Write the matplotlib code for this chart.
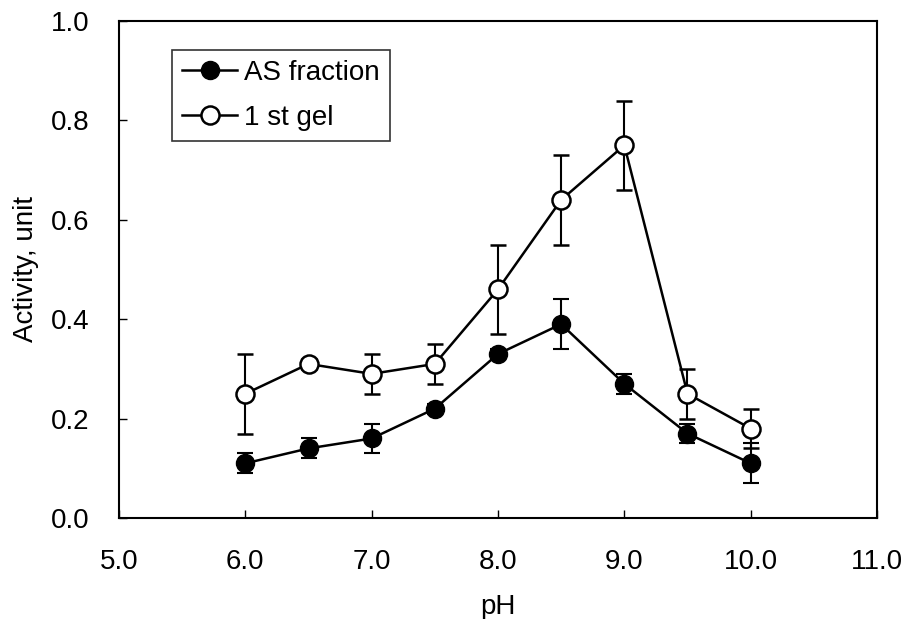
import matplotlib
matplotlib.use("Agg")
import matplotlib.pyplot as plt
import numpy as np

plt.rcParams['font.family'] = ['Liberation Sans', 'DejaVu Sans']

ph = [6.0, 6.5, 7.0, 7.5, 8.0, 8.5, 9.0, 9.5, 10.0]
as_fraction = [0.11, 0.14, 0.16, 0.22, 0.33, 0.39, 0.27, 0.17, 0.11]
as_err = [0.02, 0.02, 0.03, 0.01, 0.01, 0.05, 0.02, 0.02, 0.04]
gel1 = [0.25, 0.31, 0.29, 0.31, 0.46, 0.64, 0.75, 0.25, 0.18]
gel1_err = [0.08, 0.01, 0.04, 0.04, 0.09, 0.09, 0.09, 0.05, 0.04]

xticks = [5.0, 6.0, 7.0, 8.0, 9.0, 10.0, 11.0]
yticks = [0.0, 0.2, 0.4, 0.6, 0.8, 1.0]

FS = 20

fig = plt.figure(figsize=(9.02, 6.19), dpi=100)
ax = fig.add_axes([119/902, 1-518/619, (877-119)/902, (518-21)/619])

ax.errorbar(ph, as_fraction, yerr=as_err, fmt='-o', color='black', mfc='black',
            mec='black', ms=13, lw=1.8, elinewidth=1.5, capsize=6, capthick=1.5,
            label='AS fraction', zorder=3)
ax.errorbar(ph, gel1, yerr=gel1_err, fmt='-o', color='black', mfc='white',
            mec='black', mew=1.8, ms=13, lw=1.8, elinewidth=1.5, capsize=6, capthick=1.5,
            label='1 st gel', zorder=3)

ax.set_xlim(5.0, 11.0)
ax.set_ylim(0.0, 1.0)
ax.set_xticks(xticks)
ax.set_xticklabels([f"{v:.1f}" for v in xticks])
ax.set_yticks(yticks)
ax.set_yticklabels([f"{v:.1f}" for v in yticks])
ax.tick_params(direction='in', length=6, width=1, labelsize=FS)
ax.tick_params(axis='x', pad=22)
ax.tick_params(axis='y', pad=21)
for s in ax.spines.values():
    s.set_linewidth(1.5)

ax.set_xlabel('pH', fontsize=FS, labelpad=14)
ax.set_ylabel('Activity, unit', fontsize=FS, labelpad=9)

handles, labels = ax.get_legend_handles_labels()
handles = [h[0] for h in handles]
leg = ax.legend(handles, labels, loc='upper left', bbox_to_anchor=(0.070, 0.9416),
                borderaxespad=0, fontsize=FS, frameon=True, fancybox=False,
                edgecolor='black', handlelength=2.0, borderpad=0.35,
                labelspacing=0.7, handletextpad=0.25)
leg.get_frame().set_linewidth(1.2)

fig.savefig('out.png', dpi=100)
